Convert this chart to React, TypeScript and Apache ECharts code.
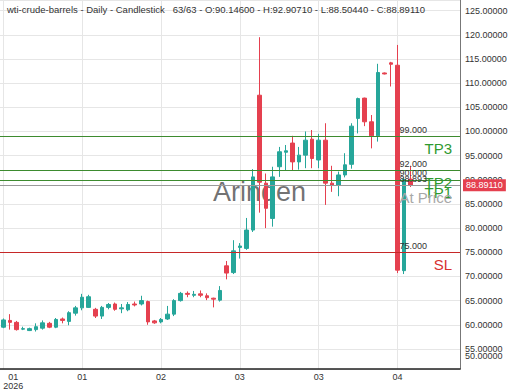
import React, { useEffect, useRef } from 'react';
import * as echarts from 'echarts';

// Daily OHLC values (63 sessions)
const opens = [59.5, 60.9, 60.5, 59.1, 58.8, 59.0, 59.3, 60.3, 59.5, 61.2, 60.7, 62.4, 63.5, 63.6, 63.2, 61.8, 63.6, 64.3, 63.3, 63.1, 64.3, 64.3, 64.8, 60.8, 60.6, 61.2, 62.2, 65.0, 66.5, 66.1, 66.4, 66.0, 65.5, 65.1, 72.2, 70.8, 76.0, 75.8, 79.6, 107.5, 89.3, 82.0, 92.7, 95.7, 97.6, 93.7, 95.1, 98.4, 94.1, 98.2, 89.3, 88.9, 91.0, 93.2, 102.7, 106.9, 102.0, 99.1, 112.1, 114.2, 113.7, 71.2, 90.146];
const closes = [61.0, 60.5, 59.0, 59.2, 59.2, 59.6, 60.4, 59.5, 61.1, 60.9, 62.5, 63.5, 65.7, 65.8, 61.8, 63.6, 64.2, 63.2, 63.5, 64.2, 64.1, 65.0, 60.6, 60.4, 61.1, 62.2, 65.0, 66.5, 66.3, 66.3, 66.1, 65.6, 65.3, 67.1, 70.7, 75.3, 76.3, 79.6, 90.6, 89.5, 84.1, 90.6, 95.8, 96.0, 93.7, 95.1, 98.2, 94.4, 98.2, 89.3, 88.9, 91.0, 93.1, 101.1, 106.8, 102.0, 99.1, 112.2, 111.9, 113.9, 71.3, 90.1, 88.8911];
const lows = [59.3, 59.0, 58.8, 58.9, 58.7, 58.6, 59.0, 59.3, 59.3, 60.3, 59.9, 61.9, 63.0, 63.5, 61.4, 61.2, 63.2, 62.9, 62.4, 62.8, 63.8, 64.0, 60.0, 60.2, 60.3, 61.0, 61.8, 64.8, 65.7, 65.7, 65.7, 65.1, 63.6, 64.8, 69.4, 70.5, 73.7, 75.5, 79.2, 83.2, 80.0, 80.3, 90.6, 92.0, 92.0, 92.1, 92.4, 92.4, 92.4, 84.8, 87.5, 86.6, 90.5, 92.3, 99.6, 101.1, 96.5, 97.9, 111.8, 109.3, 70.7, 70.5, 88.5044];
const highs = [61.3, 62.2, 60.8, 59.6, 59.4, 60.3, 60.9, 60.6, 61.4, 61.5, 62.8, 63.9, 66.4, 66.2, 63.5, 63.9, 64.5, 64.6, 64.3, 64.7, 64.8, 66.0, 65.0, 61.0, 61.4, 63.9, 65.3, 66.8, 66.9, 67.0, 67.1, 66.5, 65.6, 68.0, 73.2, 77.5, 76.9, 82.1, 92.2, 119.5, 91.3, 92.7, 96.8, 97.2, 99.1, 96.8, 100.0, 100.3, 99.5, 101.7, 92.9, 91.7, 95.5, 101.7, 107.0, 107.0, 103.4, 114.0, 112.2, 114.4, 117.9, 90.5, 92.9071];

// x-axis month labels, one every 12 sessions
const xTickLabels = ['01\n2026', '01', '02', '03', '03', '04'];
const tickStep = 12;
const emptySlots = 7;

// trade levels
const levelNames = ['TP3', 'TP2', 'TP1', 'At Price', 'SL'];
const levelValues = [99, 92, 90, 88.893, 75];
const levelColors = ['#3d8b2f', '#3d8b2f', '#3d8b2f', '#9a9a9a', '#c62828'];
const levelTextColors = ['#2f9a2f', '#2f9a2f', '#2f9a2f', '#a8a8a8', '#d8302f'];

const yMin = 50.85;
const yMax = 127.2;
const yBottomLabel = '50.00000';

const FONT = '"Liberation Sans", Arial, sans-serif';
const HIDDEN = 'rgba(0,0,0,0)';

export default function App() {
  const ref = useRef<HTMLDivElement>(null);

  useEffect(() => {
    if (!ref.current) return;
    const chart = echarts.init(ref.current, undefined, { renderer: 'svg' });
    const n = opens.length;
    const categories: string[] = [];
    for (let i = 0; i < n + emptySlots; i++) categories.push(String(i + 1));
    const data: any[] = [];
    for (let i = 0; i < n; i++) data.push([opens[i], closes[i], lows[i], highs[i]]);
    for (let i = 0; i < emptySlots; i++) data.push('-');

    const last = n - 1;
    const lastIdx = categories.length - 1;
    const labelAnchor = 60;

    const markData: any[] = [];
    levelValues.forEach((v, k) => {
      markData.push({
        yAxis: v,
        lineStyle: { color: levelColors[k], width: 1, type: 'solid' },
        label: {
          show: true,
          position: 'insideEndBottom',
          formatter: levelNames[k],
          color: levelTextColors[k],
          fontSize: 15,
          fontFamily: FONT,
          distance: 5,
          padding: [0, 3, 0, 0],
        },
      });
      markData.push([
        {
          coord: [labelAnchor, v],
          lineStyle: { color: HIDDEN, width: 0 },
          label: {
            show: true,
            position: 'insideStartTop',
            formatter: v.toFixed(3),
            color: '#333',
            fontSize: 9,
            fontFamily: FONT,
            distance: 2,
          },
        },
        { coord: [lastIdx, v] },
      ]);
    });
    markData.push({
      yAxis: closes[last],
      lineStyle: { color: HIDDEN, width: 0 },
      label: {
        show: true,
        position: 'end',
        formatter: closes[last].toFixed(5),
        color: '#fff',
        backgroundColor: '#e5404f',
        padding: [2, 3, 1, 3],
        fontSize: 9,
        fontFamily: FONT,
        distance: 3,
      },
    });

    const title =
      'wti-crude-barrels - Daily - Candlestick   ' +
      `${n}/${n} - O:${opens[last].toFixed(5)} - H:${highs[last].toFixed(5)} - L:${lows[last].toFixed(5)} - C:${closes[last].toFixed(5)}`;

    chart.setOption({
      animation: false,
      backgroundColor: '#fff',
      textStyle: { fontFamily: FONT },
      title: {
        text: title,
        left: 7,
        top: 4,
        padding: 0,
        textStyle: { fontSize: 9.5, fontWeight: 'normal', color: '#333', fontFamily: FONT },
      },
      grid: { left: 0, right: 60, top: 0, bottom: 21, containLabel: false, outerBoundsMode: 'none' },
      xAxis: {
        type: 'category',
        data: categories,
        boundaryGap: true,
        axisLine: { lineStyle: { color: '#222', width: 1.5 } },
        axisTick: { show: false, alignWithLabel: true },
        axisLabel: {
          interval: (i: number) => i % tickStep === 0 && i / tickStep < xTickLabels.length,
          formatter: (_v: string, i: number) => {
            const t = xTickLabels[Math.round(i / tickStep)];
            if (i === 0) {
              return t
                .split('\n')
                .map((s) => `{f|${s}}`)
                .join('\n');
            }
            return t;
          },
          fontSize: 9,
          lineHeight: 9,
          color: '#333',
          margin: 3,
          hideOverlap: false,
          rich: { f: { fontSize: 9, lineHeight: 9, color: '#333', padding: [0, 0, 0, 20] } },
        },
        splitLine: {
          show: true,
          alignWithLabel: true,
          interval: (i: number) => i % tickStep === 0 && i / tickStep < xTickLabels.length,
          lineStyle: { color: '#e6e6e6' },
        },
      },
      yAxis: {
        type: 'value',
        position: 'right',
        min: yMin,
        max: yMax,
        splitNumber: 15,
        minInterval: 5,
        maxInterval: 5,
        axisLine: { show: true, lineStyle: { color: '#777' } },
        axisTick: { show: false },
        axisLabel: {
          fontSize: 9,
          color: '#333',
          margin: 5,
          hideOverlap: false,
          formatter: (v: number) => {
            if (Math.abs(v / 5 - Math.round(v / 5)) > 1e-6) return '';
            return v.toFixed(5);
          },
        },
        splitLine: { show: true, lineStyle: { color: '#e6e6e6' } },
      },
      graphic: [
        {
          type: 'text',
          left: 213,
          top: 178,
          style: {
            text: 'Arinden',
            font: `27px ${FONT}`,
            fill: 'rgba(90,90,90,0.85)',
          },
        },
        {
          type: 'text',
          left: 465,
          top: 351,
          style: {
            text: yBottomLabel,
            font: `9px ${FONT}`,
            fill: '#333',
          },
        },
      ],
      series: [
        {
          type: 'candlestick',
          data,
          barWidth: 4,
          itemStyle: {
            color: '#26a69a',
            color0: '#e5404f',
            borderColor: '#26a69a',
            borderColor0: '#e5404f',
            borderColorDoji: '#26a69a',
            borderWidth: 1,
          },
          markLine: {
            silent: true,
            symbol: ['none', 'none'],
            data: markData,
          },
        },
      ],
    });
    return () => chart.dispose();
  }, []);

  return (
    <div
      ref={ref}
      style={{ position: 'fixed', left: 0, top: 0, width: 520, height: 390, background: '#fff' }}
    />
  );
}
